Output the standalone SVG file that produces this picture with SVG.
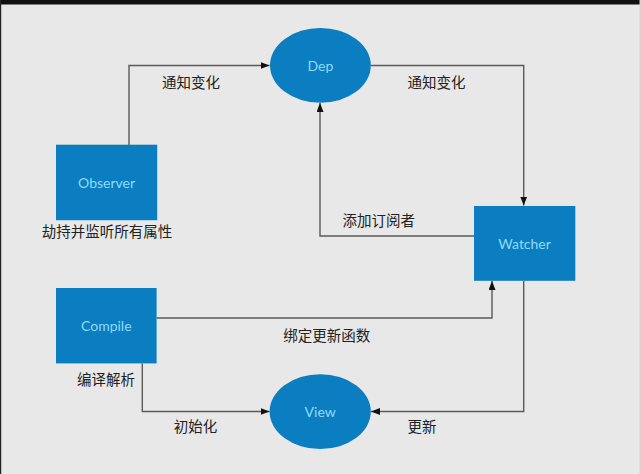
<svg xmlns="http://www.w3.org/2000/svg" width="641" height="474" viewBox="0 0 641 474">
<style>
.box{fill:#0b7dc1}
.nt{font-family:Lato,"Open Sans","DejaVu Sans",sans-serif;font-size:14px;fill:#8fdcfa;text-anchor:middle}
.lb{font-family:"Noto Sans CJK SC","Noto Sans",sans-serif;font-size:14.5px;fill:#222}
.cn{fill:none;stroke:#5a5a5a;stroke-width:1.4}
</style>
<defs>
<marker id="ah" markerUnits="userSpaceOnUse" markerWidth="10" markerHeight="8" refX="9" refY="3.5" orient="auto">
<path d="M0,0 L9,3.5 L0,7 z" fill="#111"/>
</marker>
</defs>
<rect x="0" y="0" width="641" height="474" fill="#e8e8e8"/>
<rect x="0" y="0" width="641" height="4.5" fill="#111"/>
<rect x="0" y="0" width="1.2" height="474" fill="#222"/>
<rect x="639.5" y="0" width="1.5" height="474" fill="#d6d6d6"/>
<g id="connectors">
<path class="cn" d="M129,145 V65.5 H269.5" marker-end="url(#ah)"/>
<path class="cn" d="M370.7,65.5 H523.7 V205.5" marker-end="url(#ah)"/>
<path class="cn" d="M474,236 H320 V103" marker-end="url(#ah)"/>
<path class="cn" d="M156.6,318 H492 V281" marker-end="url(#ah)"/>
<path class="cn" d="M142.3,363.5 V411.5 H269.5" marker-end="url(#ah)"/>
<path class="cn" d="M523.7,281 V411.5 H371" marker-end="url(#ah)"/>
</g>
<g id="dep">
<ellipse class="box" cx="320.4" cy="65.4" rx="50.4" ry="37.4"/>
<text class="nt" x="320.4" y="71">Dep</text>
</g>
<g id="observer">
<rect class="box" x="56" y="144.7" width="101.2" height="75.5"/>
<text class="nt" x="106.6" y="188">Observer</text>
</g>
<g id="watcher">
<rect class="box" x="474" y="206" width="101.3" height="74.8"/>
<text class="nt" x="524.6" y="249">Watcher</text>
</g>
<g id="compile">
<rect class="box" x="56" y="288" width="100.6" height="75.4"/>
<text class="nt" x="106.3" y="331">Compile</text>
</g>
<g id="view">
<ellipse class="box" cx="320.2" cy="411.6" rx="50.6" ry="37.4"/>
<text class="nt" x="320.2" y="417">View</text>
</g>
<g id="labels">
<text class="lb" x="162" y="88">通知变化</text>
<text class="lb" x="407.6" y="88">通知变化</text>
<text class="lb" x="41.7" y="237">劫持并监听所有属性</text>
<text class="lb" x="342.6" y="226">添加订阅者</text>
<text class="lb" x="283.3" y="341">绑定更新函数</text>
<text class="lb" x="77" y="385">编译解析</text>
<text class="lb" x="173.8" y="432">初始化</text>
<text class="lb" x="407.6" y="432">更新</text>
</g>
</svg>
